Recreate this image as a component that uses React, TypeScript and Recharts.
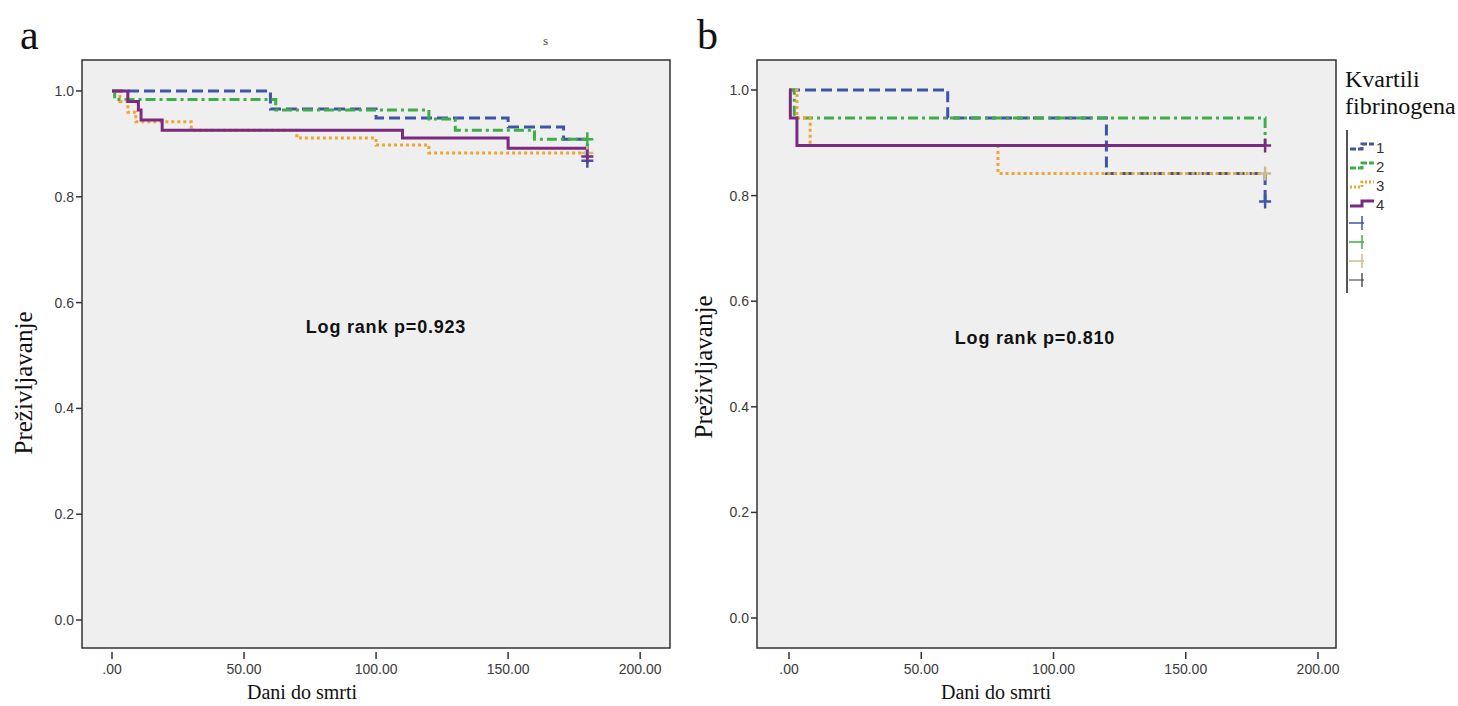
import React from "react";
import { Line, LineChart, ReferenceArea, XAxis, YAxis } from "recharts";

// panel a — times (days) and survival per quartile
const aQ1Times = [0, 60, 100, 150, 171, 180];
const aQ1Surv = [1, 0.966, 0.949, 0.932, 0.909, 0.868];
const aQ1Censor = [180];
const aQ2Times = [0, 1, 62, 120, 130, 160];
const aQ2Surv = [1, 0.984, 0.964, 0.947, 0.926, 0.909];
const aQ2Censor = [180];
const aQ3Times = [0, 3, 6, 9, 30, 70, 100, 120];
const aQ3Surv = [1, 0.98, 0.96, 0.942, 0.926, 0.911, 0.898, 0.883];
const aQ3Censor = [180];
const aQ4Times = [0, 6, 10, 11, 19, 110, 150, 180];
const aQ4Surv = [1, 0.98, 0.964, 0.945, 0.926, 0.911, 0.892, 0.876];
const aQ4Censor = [180];

// panel b
const bQ1Times = [0, 60, 120, 180];
const bQ1Surv = [1, 0.947, 0.842, 0.789];
const bQ1Censor = [180];
const bQ2Times = [0, 2, 180];
const bQ2Surv = [1, 0.947, 0.895];
const bQ2Censor: number[] = [];
const bQ3Times = [0, 3, 8, 79];
const bQ3Surv = [1, 0.947, 0.895, 0.842];
const bQ3Censor = [180];
const bQ4Times = [0, 0.5, 3];
const bQ4Surv = [1, 0.947, 0.895];
const bQ4Censor = [180];

const xTicks = [0, 50, 100, 150, 200];
const yTicks = [0, 0.2, 0.4, 0.6, 0.8, 1.0];
const quartileLabels = ["1", "2", "3", "4"];

const COLORS = ["#3d56a6", "#3fae49", "#f0a531", "#7a2a80"];
const CENSOR_COLORS = ["#3d56a6", "#3fae49", "#cdbb8c", "#7a2a80"];
const DASHES = ["11 5", "10 4 3 4", "3 3", undefined];

type Pt = { t: number; s: number; c?: boolean };

const buildSteps = (times: number[], surv: number[], censor: number[]): Pt[] => {
	const pts: Pt[] = times.map((t, i) => ({ t, s: surv[i] }));
	for (const ct of censor) {
		const last = pts[pts.length - 1];
		if (last.t === ct) last.c = true;
		else pts.push({ t: ct, s: last.s, c: true });
	}
	return pts;
};

const panelA = [
	buildSteps(aQ1Times, aQ1Surv, aQ1Censor),
	buildSteps(aQ2Times, aQ2Surv, aQ2Censor),
	buildSteps(aQ3Times, aQ3Surv, aQ3Censor),
	buildSteps(aQ4Times, aQ4Surv, aQ4Censor),
];
const panelB = [
	buildSteps(bQ1Times, bQ1Surv, bQ1Censor),
	buildSteps(bQ2Times, bQ2Surv, bQ2Censor),
	buildSteps(bQ3Times, bQ3Surv, bQ3Censor),
	buildSteps(bQ4Times, bQ4Surv, bQ4Censor),
];

const SANS = "'Liberation Sans', Arial, sans-serif";
const SERIF = "'Liberation Serif', 'Times New Roman', serif";

const fmtX = (v: number) => (v === 0 ? ".00" : v.toFixed(2));

const XTick = (props: any) => {
	const { x, y, payload } = props;
	return (
		<g>
			<line x1={x} x2={x} y1={y + 4} y2={y + 11} stroke="#333" strokeWidth={1.5} />
			<text x={x} y={y + 26} textAnchor="middle" fontSize={14} fill="#3a3a3a" fontFamily={SANS}>
				{fmtX(payload.value)}
			</text>
		</g>
	);
};

const YTick = (props: any) => {
	const { x, y, payload } = props;
	return (
		<g>
			<line x1={x - 6} x2={x} y1={y} y2={y} stroke="#333" strokeWidth={1.5} />
			<text x={x - 8} y={y + 5} textAnchor="end" fontSize={14} fill="#3a3a3a" fontFamily={SANS}>
				{payload.value.toFixed(1)}
			</text>
		</g>
	);
};

const censorDot = (color: string) => (props: any) => {
	const { cx, cy, payload, index } = props;
	if (!payload?.c) return <g key={index} />;
	return (
		<path
			key={index}
			d={`M${cx - 6},${cy}H${cx + 6}M${cx},${cy - 7}V${cy + 7}`}
			stroke={color}
			strokeWidth={2.5}
			fill="none"
		/>
	);
};

type PanelProps = {
	series: Pt[][];
	xDomain: [number, number];
	yDomain: [number, number];
	width: number;
	marginLeft: number;
	marginRight: number;
};

const KMPanel = ({ series, xDomain, yDomain, width, marginLeft, marginRight }: PanelProps) => (
	<LineChart
		width={width}
		height={706}
		margin={{ top: 60, right: marginRight, bottom: 28, left: marginLeft }}
	>
		<XAxis
			dataKey="t"
			type="number"
			domain={xDomain}
			ticks={xTicks}
			allowDataOverflow
			axisLine={false}
			tickLine={false}
			tickSize={0}
			tickMargin={0}
			height={30}
			tick={<XTick />}
		/>
		<YAxis
			dataKey="s"
			type="number"
			domain={yDomain}
			ticks={yTicks}
			allowDataOverflow
			axisLine={false}
			tickLine={false}
			tickSize={0}
			tickMargin={0}
			width={50}
			tick={<YTick />}
		/>
		<ReferenceArea
			x1={xDomain[0]}
			x2={xDomain[1]}
			y1={yDomain[0]}
			y2={yDomain[1]}
			fill="#efefef"
			fillOpacity={1}
			stroke="#333"
			strokeWidth={1.5}
		/>
		{series.map((data, i) => (
			<Line
				key={quartileLabels[i]}
				data={data}
				dataKey="s"
				type="stepAfter"
				stroke={COLORS[i]}
				strokeWidth={3}
				strokeDasharray={DASHES[i]}
				dot={censorDot(CENSOR_COLORS[i])}
				activeDot={false}
				isAnimationActive={false}
			/>
		))}
	</LineChart>
);

const abs = (s: React.CSSProperties): React.CSSProperties => ({ position: "absolute", ...s });

const Legend = () => (
	<svg width={118} height={175} style={abs({ left: 1340, top: 125 })}>
		<line x1={7} x2={7} y1={5} y2={168} stroke="#555" strokeWidth={2} />
		{quartileLabels.map((lab, i) => {
			const y = 22 + i * 19;
			return (
				<g key={lab}>
					<path
						d={`M10,${y + 2}H22V${y - 3}H34`}
						stroke={COLORS[i]}
						strokeWidth={3}
						strokeDasharray={DASHES[i] ? (i === 2 ? "2 2" : "6 2") : undefined}
						fill="none"
					/>
					<text x={36} y={y + 6} fontSize={15} fill="#333" fontFamily={SANS}>
						{lab}
					</text>
				</g>
			);
		})}
		{CENSOR_COLORS.map((c, i) => {
			const y = 98 + i * 19;
			return (
				<g key={c + i}>
					<line x1={9} x2={24} y1={y} y2={y} stroke={i === 3 ? "#777" : c} strokeWidth={1.5} />
					<line x1={22} x2={22} y1={y - 7} y2={y + 7} stroke={i === 3 ? "#555" : c} strokeWidth={1.5} />
				</g>
			);
		})}
	</svg>
);

export default function App() {
	const serif = (size: number): React.CSSProperties => ({
		fontFamily: SERIF,
		fontSize: size,
		color: "#111",
		whiteSpace: "nowrap",
		lineHeight: 1,
	});
	const bold: React.CSSProperties = {
		transform: "translate(-50%,-50%)",
		fontFamily: SANS,
		fontWeight: "bold",
		fontSize: 18,
		letterSpacing: 0.8,
		color: "#111",
		whiteSpace: "nowrap",
	};
	return (
		<div style={abs({ left: 0, top: 0, width: 1458, height: 706, background: "#fff", overflow: "hidden" })}>
			<div style={abs({ left: 0, top: 0 })}>
				<KMPanel
					series={panelA}
					xDomain={[-11.36, 211.3]}
					yDomain={[-0.0529, 1.0586]}
					width={690}
					marginLeft={32}
					marginRight={20}
				/>
			</div>
			<div style={abs({ left: 700, top: 0 })}>
				<KMPanel
					series={panelB}
					xDomain={[-12.1, 206.8]}
					yDomain={[-0.0568, 1.0568]}
					width={650}
					marginLeft={7}
					marginRight={14}
				/>
			</div>

			<div style={abs({ left: 20, top: 14, ...serif(42) })}>a</div>
			<div style={abs({ left: 697, top: 14, ...serif(42) })}>b</div>
			<div style={abs({ left: 543, top: 34, ...serif(13), color: "#444" })}>s</div>

			<div style={abs({ left: 302, top: 692, transform: "translate(-50%,-50%)", ...serif(20) })}>
				Dani do smrti
			</div>
			<div style={abs({ left: 996, top: 692, transform: "translate(-50%,-50%)", ...serif(20) })}>
				Dani do smrti
			</div>
			<div
				style={abs({ left: 23, top: 383, transform: "translate(-50%,-50%) rotate(-90deg)", ...serif(25) })}
			>
				Preživljavanje
			</div>
			<div
				style={abs({ left: 703, top: 367, transform: "translate(-50%,-50%) rotate(-90deg)", ...serif(25) })}
			>
				Preživljavanje
			</div>

			<div style={abs({ left: 386, top: 327, ...bold })}>Log rank p=0.923</div>
			<div style={abs({ left: 1035, top: 338, ...bold })}>Log rank p=0.810</div>

			<div style={abs({ left: 1345, top: 67, ...serif(24) })}>Kvartili</div>
			<div style={abs({ left: 1345, top: 94, ...serif(24) })}>fibrinogena</div>
			<Legend />
		</div>
	);
}
